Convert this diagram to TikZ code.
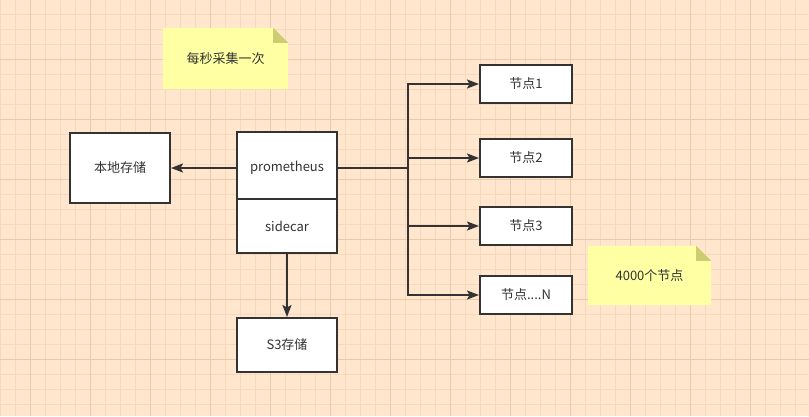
\documentclass[tikz,border=0pt]{standalone}
\usepackage{fontspec}
\setmainfont{Noto Sans CJK SC}
\usetikzlibrary{arrows.meta}
\definecolor{bgc}{HTML}{FFE6CC}
\definecolor{gridminor}{HTML}{F6D9BD}
\definecolor{gridmajor}{HTML}{EACAAA}
\definecolor{ink}{HTML}{333333}
\definecolor{notey}{HTML}{FFFFA3}
\definecolor{notefold}{HTML}{CCCC70}
\pgfdeclarelayer{gridlayer}
\pgfdeclarelayer{notelayer}
\pgfsetlayers{gridlayer,notelayer,main}
\tikzset{
  box/.style={draw=ink, line width=2pt, fill=white, inner sep=0pt, text=ink,
    font=\fontsize{13}{15}\selectfont},
  notetext/.style={inner sep=0pt, text=ink, font=\fontsize{13}{15}\selectfont},
  conn/.style={draw=ink, line width=2pt, -{Stealth[length=12pt,width=9pt,inset=2.5pt]}},
  plain/.style={draw=ink, line width=2pt},
  minorline/.style={draw=gridminor, line width=1pt},
  majorline/.style={draw=gridmajor, line width=1pt}
}
\begin{document}
\begin{tikzpicture}[x=1pt,y=-1pt]
\useasboundingbox (0,0) rectangle (809,416);
\begin{pgfonlayer}{gridlayer}
  \fill[bgc] (0,0) rectangle (809,416);
  \foreach \x in {0,15,...,809} \draw[minorline] (\x,0) -- (\x,416);
  \foreach \y in {-1,14,...,416} \draw[minorline] (0,\y) -- (809,\y);
  \foreach \x in {30,90,...,809} \draw[majorline] (\x,0) -- (\x,416);
  \foreach \y in {59,119,...,416} \draw[majorline] (0,\y) -- (809,\y);
\end{pgfonlayer}

% notes
\node[notetext, minimum width=125pt, minimum height=61pt] (note1) at (225.5,58.5) {每秒采集一次};
\node[notetext, minimum width=123pt, minimum height=59pt] (note2) at (649.5,275.5) {4000个节点};
\begin{pgfonlayer}{notelayer}
  \foreach \n in {note1,note2}{
    \fill[notey] (\n.south west) -- (\n.north west) -- ([xshift=-15pt]\n.north east)
      -- ([yshift=-15pt]\n.north east) -- (\n.south east) -- cycle;
    \fill[notefold] ([xshift=-15pt]\n.north east) -- ([yshift=-15pt]\n.north east)
      -- ([xshift=-15pt,yshift=-15pt]\n.north east) -- cycle;
  }
\end{pgfonlayer}

% boxes
\node[box, minimum width=100pt, minimum height=70pt] (local) at (120,167.5) {本地存储};
\node[box, minimum width=100pt, minimum height=72pt] (prom) at (287,168) {prometheus};
\node[box, minimum width=100pt, minimum height=54pt] (side) at (287,226) {sidecar};
\node[box, minimum width=100pt, minimum height=54pt] (s3) at (287,345) {S3存储};
\node[box, minimum width=92pt, minimum height=38pt] (n1) at (526,84) {节点1};
\node[box, minimum width=92pt, minimum height=38pt] (n2) at (526,158) {节点2};
\node[box, minimum width=92pt, minimum height=38pt] (n3) at (526,226) {节点3};
\node[box, minimum width=92pt, minimum height=38pt] (nN) at (526,295) {节点....N};

% connectors
\coordinate (branch) at (408,168);
\draw[conn] (prom.west) -- (local.east |- prom.west);
\draw[conn] (side.south) -- (s3.north);
\draw[plain] (prom.east) -- (branch);
\draw[conn] (branch) |- (n1.west);
\draw[conn] (branch) |- (n2.west);
\draw[conn] (branch) |- (n3.west);
\draw[conn] (branch) |- (nN.west);
\end{tikzpicture}
\end{document}
